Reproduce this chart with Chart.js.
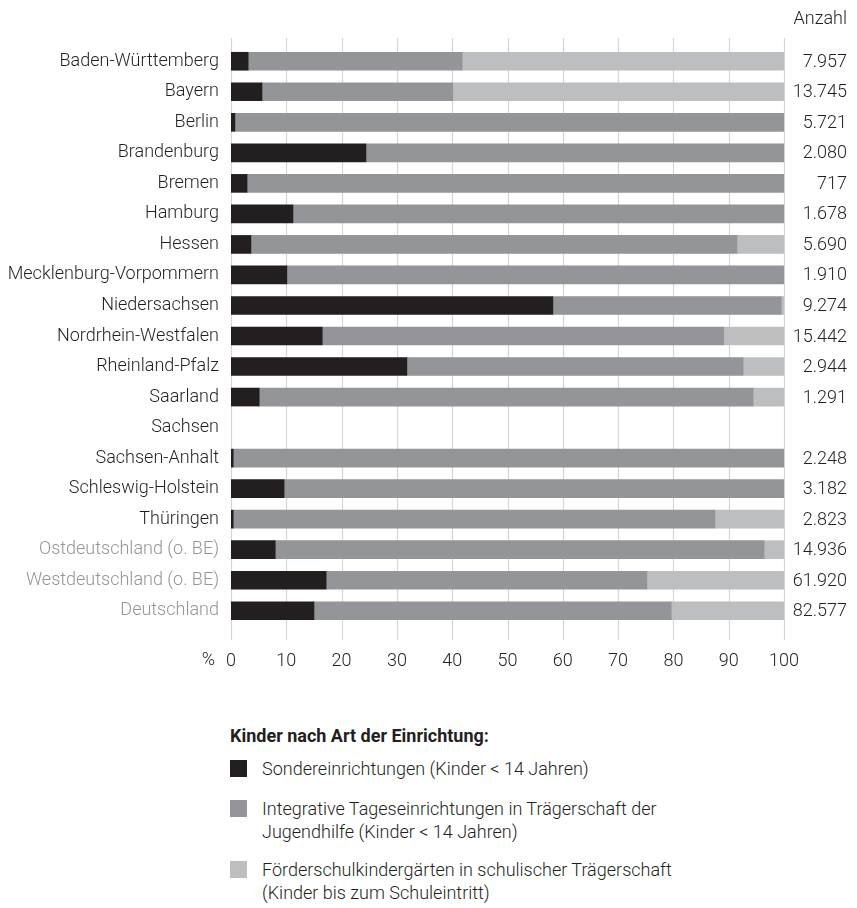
<!DOCTYPE html>
<html>
<head>
<meta charset="utf-8">
<script src="https://cdn.jsdelivr.net/npm/chart.js@4"></script>
<style>
  body { margin: 0; background: #fff; font-family: Roboto, sans-serif; font-weight: 300; color: #231f20; }
  #wrap { position: relative; width: 857px; height: 908px; }
  #chart { position: absolute; left: 0; top: 0; }
  .legend { position: absolute; left: 230px; font-size: 18px; line-height: 23px; }
  .legend-title { top: 724px; font-weight: bold; }
  .item { padding-left: 32px; }
  .item i { position: absolute; left: 0; top: 3px; width: 17px; height: 17px; }
</style>
</head>
<body>
<div id="wrap">
  <canvas id="chart" width="857" height="700"></canvas>
  <div class="legend legend-title">Kinder nach Art der Einrichtung:</div>
  <div class="legend item" style="top:757px"><i style="background:#231f20"></i>Sondereinrichtungen (Kinder &lt; 14 Jahren)</div>
  <div class="legend item" style="top:797px"><i style="background:#939598"></i>Integrative Tageseinrichtungen in Trägerschaft der<br>Jugendhilfe (Kinder &lt; 14 Jahren)</div>
  <div class="legend item" style="top:858px"><i style="background:#bcbec0"></i>Förderschulkindergärten in schulischer Trägerschaft<br>(Kinder bis zum Schuleintritt)</div>
</div>
<script>
const regions = ['Baden-Württemberg', 'Bayern', 'Berlin', 'Brandenburg', 'Bremen', 'Hamburg', 'Hessen',
  'Mecklenburg-Vorpommern', 'Niedersachsen', 'Nordrhein-Westfalen', 'Rheinland-Pfalz', 'Saarland', 'Sachsen',
  'Sachsen-Anhalt', 'Schleswig-Holstein', 'Thüringen', 'Ostdeutschland (o. BE)', 'Westdeutschland (o. BE)', 'Deutschland'];

// Anteile in %
const sondereinrichtungen = [3.1, 5.6, 0.7, 24.4, 2.9, 11.2, 3.6, 10.1, 58.2, 16.5, 31.8, 5.1, null, 0.4, 9.6, 0.4, 8.0, 17.2, 15.0];
const integrative = [38.7, 34.5, 99.3, 75.6, 97.1, 88.8, 87.9, 89.9, 41.3, 72.6, 60.8, 89.3, null, 99.6, 90.4, 87.1, 88.4, 58.0, 64.6];
const foerderschul = [58.2, 59.9, 0, 0, 0, 0, 8.5, 0, 0.5, 10.9, 7.4, 5.6, null, 0, 0, 12.5, 3.6, 24.8, 20.4];

const anzahl = ['7.957', '13.745', '5.721', '2.080', '717', '1.678', '5.690', '1.910', '9.274', '15.442',
  '2.944', '1.291', '', '2.248', '3.182', '2.823', '14.936', '61.920', '82.577'];

const xTicks = [0, 10, 20, 30, 40, 50, 60, 70, 80, 90, 100];

const FONT = 'Roboto, sans-serif';
const TEXT = '#231f20';
const MUTED = '#939598';

// grid lines reach a bit past the plot area, counts + headings at the sides
const extras = {
  id: 'extras',
  beforeDatasetsDraw(chart) {
    const { ctx, chartArea, scales } = chart;
    ctx.save();
    ctx.strokeStyle = '#d5d5d5';
    ctx.lineWidth = 1.2;
    xTicks.forEach(v => {
      const x = Math.round(scales.x.getPixelForValue(v)) + 0.5;
      ctx.beginPath();
      ctx.moveTo(x, chartArea.top - 8);
      ctx.lineTo(x, chartArea.bottom + 14);
      ctx.stroke();
    });
    ctx.restore();
  },
  afterDraw(chart) {
    const { ctx, chartArea, scales } = chart;
    ctx.save();
    ctx.font = '300 18px ' + FONT;
    ctx.fillStyle = TEXT;
    ctx.textAlign = 'right';
    ctx.textBaseline = 'middle';
    anzahl.forEach((n, i) => {
      if (n) ctx.fillText(n, 847, scales.y.getPixelForValue(i) + 1);
    });
    ctx.fillText('Anzahl', 847, chartArea.top - 27);
    ctx.fillText('%', 215, chartArea.bottom + 34);
    ctx.restore();
  }
};

new Chart(document.getElementById('chart'), {
  type: 'bar',
  plugins: [extras],
  data: {
    labels: regions,
    datasets: [
      { label: 'Sondereinrichtungen (Kinder < 14 Jahren)', data: sondereinrichtungen, backgroundColor: '#231f20' },
      { label: 'Integrative Tageseinrichtungen in Trägerschaft der Jugendhilfe (Kinder < 14 Jahren)', data: integrative, backgroundColor: '#939598' },
      { label: 'Förderschulkindergärten in schulischer Trägerschaft (Kinder bis zum Schuleintritt)', data: foerderschul, backgroundColor: '#bcbec0' },
    ]
  },
  options: {
    indexAxis: 'y',
    responsive: false,
    animation: false,
    barThickness: 18,
    layout: {
      padding: { top: 46, right: 73, left: 0, bottom: 0 }
    },
    scales: {
      x: {
        stacked: true,
        min: 0,
        max: 100,
        afterFit: (scale) => { scale.height = 74; },
        afterBuildTicks: (scale) => { scale.ticks = xTicks.map(v => ({ value: v })); },
        grid: { display: false },
        border: { display: false },
        ticks: {
          padding: 17,
          color: TEXT,
          font: { family: FONT, size: 18, weight: 300 },
          maxRotation: 0,
        },
      },
      y: {
        stacked: true,
        afterFit: (scale) => { scale.width = 231; },
        grid: { display: false, drawTicks: false },
        border: { display: false },
        ticks: {
          padding: 12,
          font: { family: FONT, size: 18, weight: 300 },
          color: (c) => c.index >= 16 ? MUTED : TEXT,
        },
      },
    },
    plugins: {
      legend: { display: false },
      tooltip: { enabled: false },
    },
  },
});
</script>
</body>
</html>
